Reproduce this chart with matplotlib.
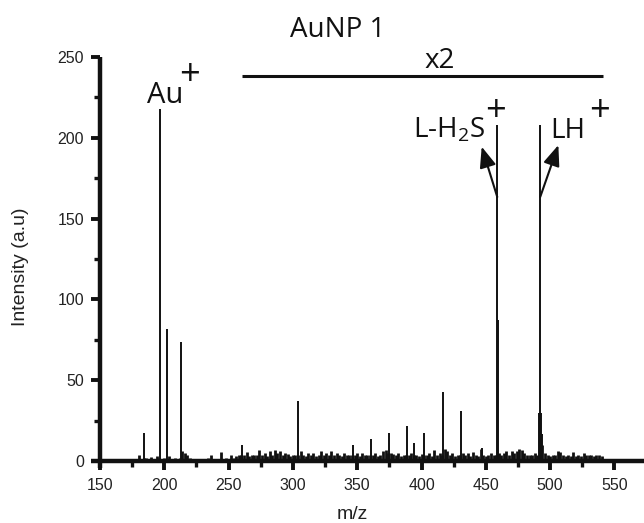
import numpy as np
import matplotlib
matplotlib.use("Agg")
import matplotlib.pyplot as plt
from matplotlib.ticker import MultipleLocator

# Prominent ion peaks (m/z, intensity in a.u.)
peak_mz = [184.2, 197.0, 202.0, 213.0, 260.2, 304.2, 346.5, 360.5, 374.7,
           388.5, 394.2, 402.1, 416.4, 430.4, 446.8, 458.9, 459.7,
           491.4, 492.3, 493.2, 494.0]
peak_int = [17.5, 217.8, 82.0, 73.5, 9.7, 37.0, 9.9, 13.4, 17.6,
            21.7, 11.4, 17.6, 43.0, 31.0, 7.8, 208.0, 87.0,
            30.0, 208.0, 30.0, 17.0]

# Baseline chatter, one sample every 2 m/z from 176 to 540
noise_start = 176
noise_step = 2
noise_int = [
    0.5, 1, 4, 1.5, 2, 2, 1.5, 2.5, 1, 3,        # 176-194
    2, 1.5, 2, 1.5, 3, 1.5, 2, 1, 2, 6,          # 196-214
    5, 4, 2, 1.5, 1, 1, 1.5, 1, 1, 2,            # 216-234
    4, 1.5, 1, 1, 5.5, 1.5, 2, 1, 3.5, 2,        # 236-254
    3, 4, 4, 4, 5.5, 3, 4, 3.5, 4, 7,            # 256-274
    4, 5, 3, 6, 4, 7, 5, 6.5, 4, 5,              # 276-294
    4.5, 3, 4, 3.5, 4, 6, 4, 3, 5, 4,            # 296-314
    5, 3, 4, 6.5, 4, 5, 3.5, 6, 4, 5,            # 316-334
    4, 3, 5, 4, 3.5, 4, 4, 5, 3, 5,              # 336-354
    4, 3.5, 4, 4, 5, 3, 4, 6, 7, 5,              # 356-374
    5, 4.5, 4, 5, 3, 4, 4, 4, 5, 4,              # 376-394
    4, 3, 4.5, 4, 4, 5, 3, 7, 4, 5,              # 396-414
    4, 7.5, 6, 4, 5, 3, 4, 4, 5, 4,              # 416-434
    5, 3, 5.5, 4, 3, 7.5, 4, 3, 4, 5,            # 436-454
    4, 4, 5, 4, 5, 6, 4, 6.5, 5, 6,              # 456-474
    7.5, 7, 5, 4, 3.5, 4, 5, 4, 4, 10,           # 476-494
    5, 4, 3, 3.5, 4, 6, 5.5, 4, 3, 4,            # 496-514
    3, 5.5, 3, 4, 3, 5, 4, 3.5, 4, 3,            # 516-534
    3.5, 3.5, 3,                                 # 536-540
]
noise_mz = noise_start + noise_step * np.arange(len(noise_int))

# Axis ticks
x_major = [150, 200, 250, 300, 350, 400, 450, 500, 550]
y_major = [0, 50, 100, 150, 200, 250]

ink = "#111111"
ann_font = ["Open Sans", "DejaVu Sans"]
tick_font = ["Liberation Sans", "DejaVu Sans"]

fig = plt.figure(figsize=(6.44, 5.23), dpi=100)
ax = fig.add_axes([0.1413, 0.1061, 0.8587, 0.7849])

ax.vlines(noise_mz, 0, noise_int, color=ink, lw=2.0)
ax.vlines(peak_mz, 0, peak_int, color=ink, lw=1.4)

ax.set_xlim(143, 573)
ax.set_ylim(-4, 250)

ax.spines["top"].set_visible(False)
ax.spines["right"].set_visible(False)
ax.spines["left"].set_position(("data", 150))
ax.spines["bottom"].set_position(("data", 0))
for s in ("left", "bottom"):
    ax.spines[s].set_linewidth(3.2)
    ax.spines[s].set_color(ink)
    ax.spines[s].set_capstyle("butt")

ax.set_xticks(x_major)
ax.set_yticks(y_major)
ax.xaxis.set_minor_locator(MultipleLocator(25))
ax.yaxis.set_minor_locator(MultipleLocator(25))
ax.tick_params(which="major", direction="out", length=6.5, width=2.8,
               color=ink, labelsize=11.5, labelcolor="#222222")
ax.tick_params(which="minor", direction="out", length=4.3, width=2.4, color=ink)
ax.tick_params(axis="x", which="major", pad=6)
ax.tick_params(axis="y", which="major", pad=5)
for lab in ax.get_xticklabels() + ax.get_yticklabels():
    lab.set_family(tick_font)

ax.set_xlabel("m/z", family=tick_font, fontsize=14, color="#222222")
ax.xaxis.set_label_coords(0.472, -0.094)
ax.set_ylabel("Intensity (a.u)", family=tick_font, fontsize=14, color="#222222")
ax.yaxis.set_label_coords(-0.112, 0.49)

# Title above the panel
ax.text(335.1, 262.4, "AuNP 1", ha="center", va="baseline", fontsize=20,
        family=ann_font, color=ink, clip_on=False)

# Magnified region marker
ax.plot([260.4, 541.0], [238.2, 238.2], color=ink, lw=2.2, solid_capstyle="butt")
ax.text(413.9, 243.2, "x2", ha="center", va="baseline", fontsize=20,
        family=ann_font, color=ink)

# Peak labels
ax.text(214.5, 221.5, "Au", ha="right", va="baseline", fontsize=21,
        family=ann_font, color=ink)
ax.text(219.5, 232.4, "+", ha="center", va="baseline", fontsize=26,
        family=ann_font, color=ink)

ax.text(449.4, 200.1, r"L-H$_\mathregular{2}$S", ha="right", va="baseline",
        fontsize=20, family=ann_font, color=ink)
ax.text(457.2, 210.7, "+", ha="center", va="baseline", fontsize=26,
        family=ann_font, color=ink)

ax.text(513.5, 200.1, "LH", ha="center", va="baseline", fontsize=20,
        family=ann_font, color=ink)
ax.text(538.4, 210.1, "+", ha="center", va="baseline", fontsize=26,
        family=ann_font, color=ink)

arrow_kw = dict(arrowstyle="-|>,head_length=0.9,head_width=0.36",
                mutation_scale=14, lw=1.5, color=ink, shrinkA=0, shrinkB=0)
ax.annotate("", xy=(446.8, 194.5), xytext=(458.9, 163.4), arrowprops=arrow_kw)
ax.annotate("", xy=(506.4, 195.5), xytext=(492.3, 163.4), arrowprops=arrow_kw)

fig.savefig("out.png", dpi=100)
